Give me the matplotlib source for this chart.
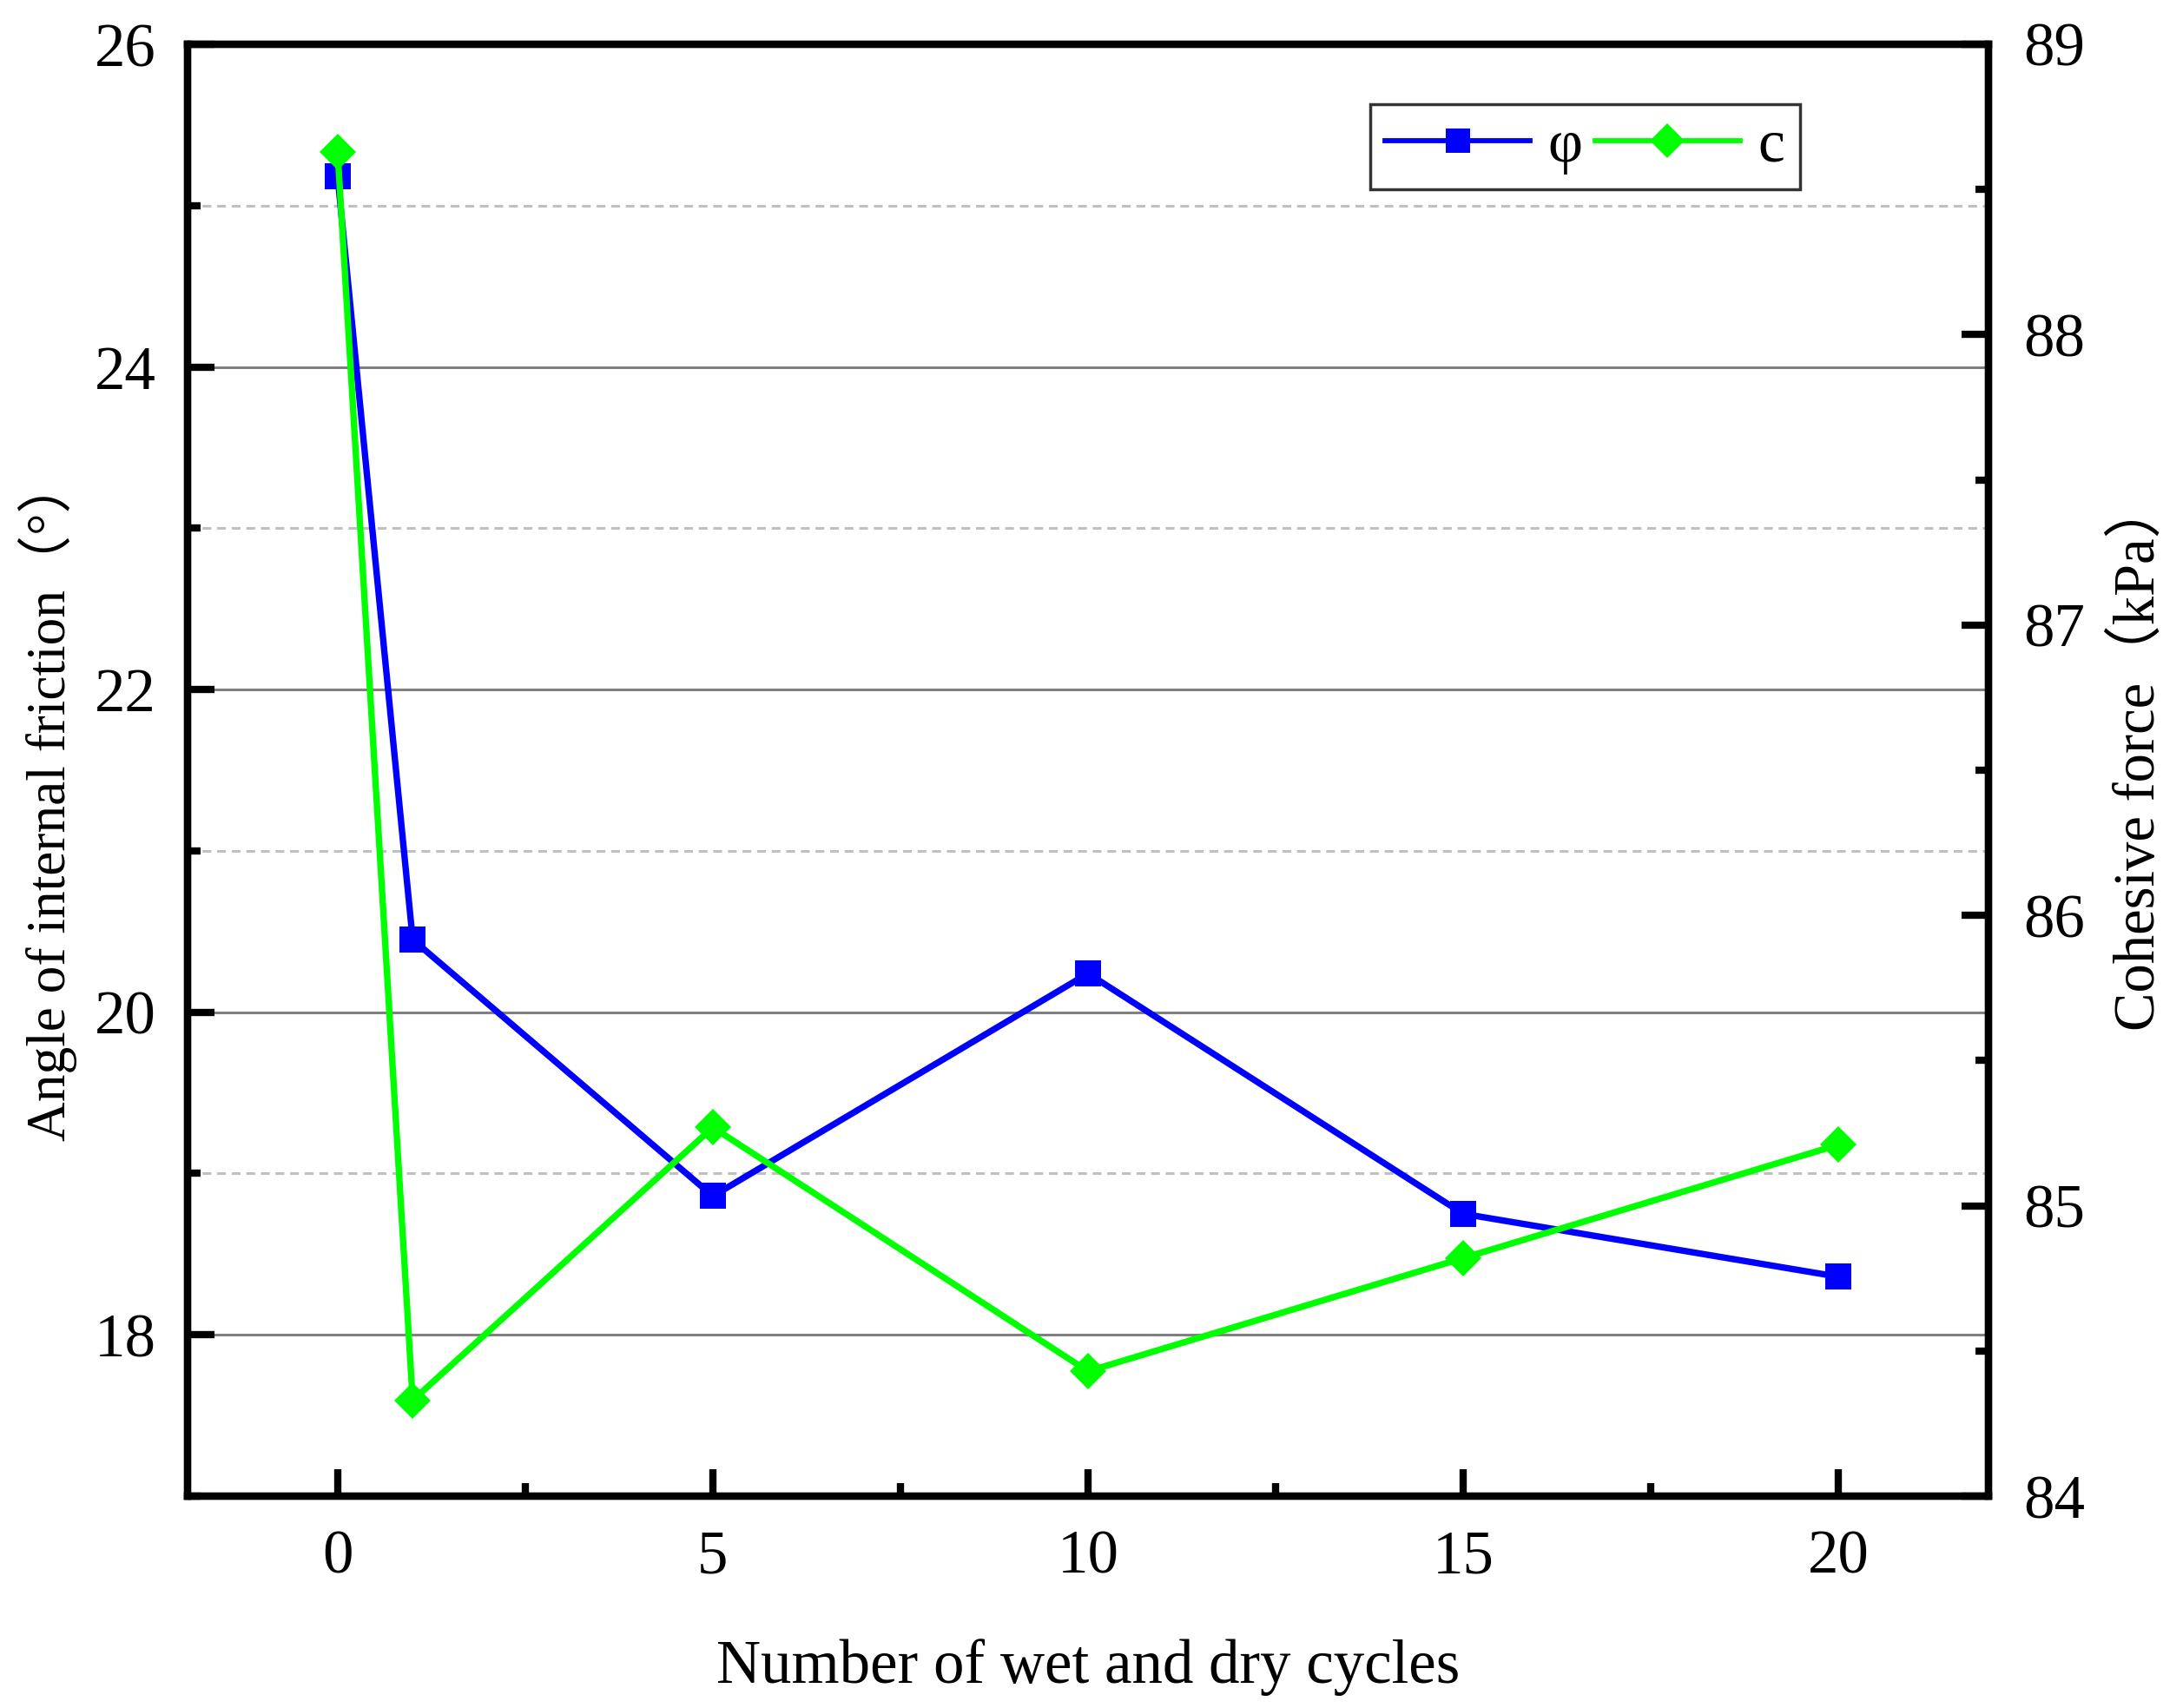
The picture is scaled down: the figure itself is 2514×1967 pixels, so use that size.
import matplotlib
matplotlib.use("Agg")
import matplotlib.pyplot as plt
from matplotlib.ticker import MultipleLocator
from matplotlib.lines import Line2D

# Data
cycles = [0, 1, 5, 10, 15, 20]
phi_values = [25.18, 20.45, 18.86, 20.24, 18.75, 18.36]
c_values = [88.63, 84.33, 85.27, 84.43, 84.82, 85.21]
x_label = "Number of wet and dry cycles"
y1_label = "Angle of internal friction（°）"
y2_label = "Cohesive force（kPa）"
series_names = ["φ", "c"]

plt.rcParams['font.family'] = ['Liberation Serif', 'Noto Sans CJK SC', 'DejaVu Serif']

W, H = 2514, 1967
fig = plt.figure(figsize=(W / 100, H / 100), dpi=100)
L, R, T, B = 216, 2290, 51, 1723
ax = fig.add_axes([L / W, 1 - B / H, (R - L) / W, (B - T) / H])
ax2 = ax.twinx()

blue = '#0000ff'
green = '#00ff00'
lw = 5.3
ms = 21

ax.plot(cycles, phi_values, color=blue, lw=lw, marker='s', ms=ms, mew=0, zorder=3)
ax2.plot(cycles, c_values, color=green, lw=lw, marker='D', ms=ms, mew=0, zorder=3)

ax.set_xlim(-2, 22)
ax.set_ylim(17, 26)
ax2.set_ylim(84, 89)

ax.xaxis.set_major_locator(MultipleLocator(5))
ax.xaxis.set_minor_locator(MultipleLocator(2.5))
ax.yaxis.set_major_locator(MultipleLocator(2))
ax.yaxis.set_minor_locator(MultipleLocator(1))
ax2.yaxis.set_major_locator(MultipleLocator(1))
ax2.yaxis.set_minor_locator(MultipleLocator(0.5))

# grid
ax.set_axisbelow(True)
ax.grid(which='major', axis='y', color='#808080', lw=2.2, ls='-')
ax.grid(which='minor', axis='y', color='#c0c0c0', lw=2.2, ls=(0, (3.3, 2.2)))

tick_fs = 51
for a in (ax, ax2):
    for s in a.spines.values():
        s.set_linewidth(6)
ax.tick_params(axis='both', which='major', direction='in', length=22, width=6,
               labelsize=tick_fs, top=False, right=False)
ax.tick_params(axis='both', which='minor', direction='in', length=11, width=6,
               top=False, right=False)
ax.tick_params(axis='x', which='major', pad=28)
ax.tick_params(axis='y', which='major', pad=26)
ax2.tick_params(axis='y', which='major', direction='in', length=22, width=6,
                labelsize=tick_fs, pad=29)
ax2.tick_params(axis='y', which='minor', direction='in', length=11, width=6)

ax.set_xlabel(x_label, fontsize=51)
ax.xaxis.set_label_coords(0.5, -0.098)
ax.set_ylabel(y1_label, fontsize=45.5)
ax.yaxis.set_label_coords(-0.061, 0.48)
ax2.set_ylabel(y2_label, fontsize=48)
ax2.yaxis.set_label_coords(1.068, 0.51)

handles = [Line2D([], [], color=blue, lw=4.2, marker='s', ms=20, mew=0),
           Line2D([], [], color=green, lw=4.2, marker='D', ms=20, mew=0)]
leg = fig.legend(handles, series_names, loc='upper left',
                 bbox_to_anchor=(1578 / W, 1 - 120 / H), ncol=2,
                 fontsize=50, frameon=True, fancybox=False, edgecolor='black',
                 handlelength=2.4, handletextpad=0.3, columnspacing=0.2,
                 borderpad=0.25, borderaxespad=0)
leg.get_frame().set_linewidth(2.5)

fig.savefig("out.png", dpi=100)
